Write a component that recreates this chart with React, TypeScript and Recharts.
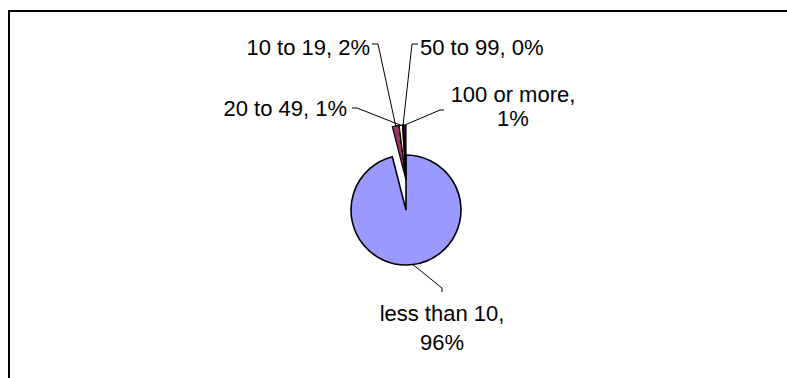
import { PieChart, Pie, Cell } from "recharts";

// data
const categories = ["less than 10", "10 to 19", "20 to 49", "50 to 99", "100 or more"];
const shares = [96.0, 2.0, 1.0, 0.3, 0.7];
const sliceColors = ["#9999FF", "#993366", "#FFFFCC", "#CCFFFF", "#660066"];

const data = categories.map((name, i) => ({ name, value: shares[i] }));

// where each data label sits, relative to the centre of its pie
type Spot = {
  bend: [number, number];
  end: [number, number];
  text: [number, number];
  anchor: "start" | "middle" | "end";
  wrap?: boolean;
  gap?: number;
};

const labelLayout: Record<string, Spot> = {
  "less than 10": { bend: [36, 78], end: [36, 82], text: [36, 103], anchor: "middle", wrap: true, gap: 29 },
  "10 to 19": { bend: [-28, -136], end: [-34, -136], text: [-36, -133], anchor: "end" },
  "20 to 49": { bend: [-49, -72], end: [-54, -72], text: [-59, -72], anchor: "end" },
  "50 to 99": { bend: [6, -136], end: [12, -136], text: [14, -133], anchor: "start" },
  "100 or more": { bend: [34, -70], end: [38, -70], text: [107, -86], anchor: "middle", wrap: true, gap: 24 },
};

const CX = 406;
const CY = 210;
const RADIUS = 55;
const EXPLODE = 30;
const FONT = "'Liberation Sans', Arial, sans-serif";

function renderLabel(props: any, exploded: boolean) {
  const { cx, cy, midAngle, outerRadius, percent, index } = props;
  if ((index === 0) === exploded) return null;
  const name = categories[index];
  const spot = labelLayout[name];
  const rad = Math.PI / 180;
  const sx = cx + outerRadius * Math.cos(-midAngle * rad);
  const sy = cy + outerRadius * Math.sin(-midAngle * rad);
  const pct = `${Math.round(percent * 100)}%`;
  const lines = spot.wrap ? [`${name},`, pct] : [`${name}, ${pct}`];
  return (
    <g key={`lbl-${index}`}>
      <polyline
        points={`${sx},${sy} ${cx + spot.bend[0]},${cy + spot.bend[1]} ${cx + spot.end[0]},${cy + spot.end[1]}`}
        fill="none"
        stroke="#000"
        strokeWidth={1}
      />
      {lines.map((t, i) => (
        <text
          key={i}
          x={cx + spot.text[0]}
          y={cy + spot.text[1] + i * (spot.gap || 0)}
          textAnchor={spot.anchor}
          dominantBaseline="central"
          fontFamily={FONT}
          fontSize={22}
          fill="#000"
        >
          {t}
        </text>
      ))}
    </g>
  );
}

export default function App() {
  return (
    <div style={{ position: "absolute", left: 0, top: 0, width: 787, height: 378, overflow: "hidden", background: "#fff" }}>
      <div
        style={{
          position: "absolute",
          left: 8,
          top: 10,
          width: 800,
          height: 400,
          border: "2px solid #000",
          boxSizing: "border-box",
        }}
      />
      <div style={{ position: "absolute", left: 0, top: 0 }}>
        <PieChart width={787} height={378} margin={{ top: 0, right: 0, bottom: 0, left: 0 }}>
          <Pie
            data={data}
            dataKey="value"
            cx={CX}
            cy={CY}
            outerRadius={RADIUS}
            startAngle={90}
            endAngle={-270}
            isAnimationActive={false}
            labelLine={false}
            label={(p: any) => renderLabel(p, false)}
          >
            {data.map((d, i) => (
              <Cell
                key={d.name}
                fill={i === 0 ? sliceColors[i] : "none"}
                stroke={i === 0 ? "#000" : "none"}
                strokeWidth={1.6}
              />
            ))}
          </Pie>
          <Pie
            data={data}
            dataKey="value"
            cx={CX}
            cy={CY - EXPLODE}
            outerRadius={RADIUS}
            startAngle={90}
            endAngle={-270}
            isAnimationActive={false}
            labelLine={false}
            label={(p: any) => renderLabel(p, true)}
          >
            {data.map((d, i) => (
              <Cell
                key={d.name}
                fill={i === 0 ? "none" : sliceColors[i]}
                stroke={i === 0 ? "none" : "#000"}
                strokeWidth={1.2}
              />
            ))}
          </Pie>
        </PieChart>
      </div>
    </div>
  );
}
